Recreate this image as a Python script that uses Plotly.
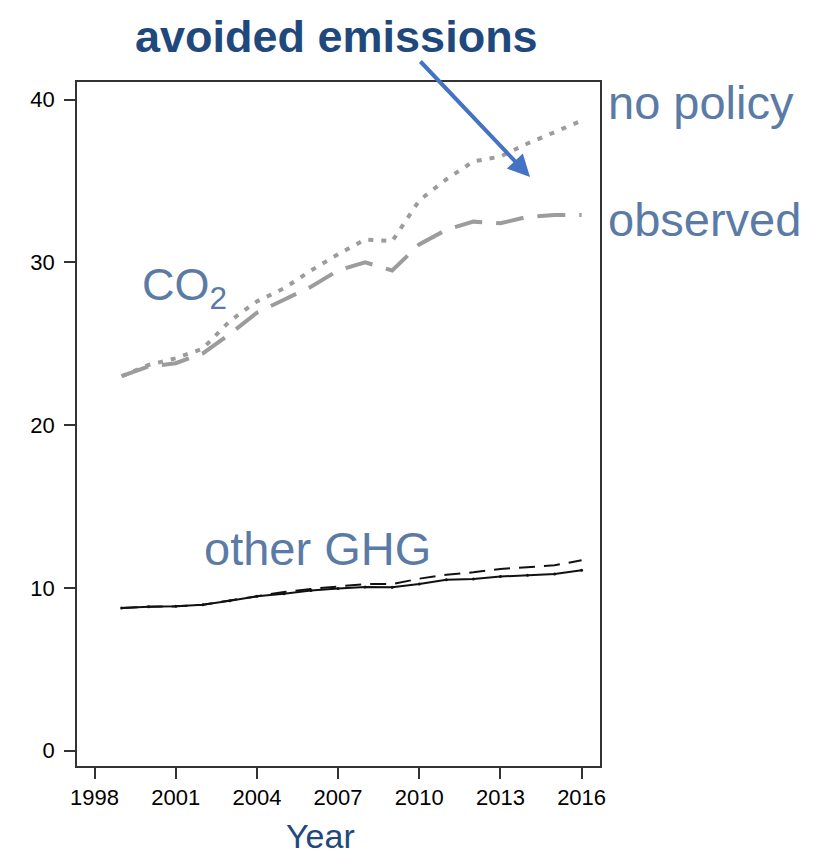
import plotly.graph_objects as go

years = list(range(1999, 2017))

co2_no_policy = [23.0, 23.7, 24.1, 24.7, 26.4, 27.6, 28.4, 29.5, 30.5, 31.4, 31.3,
                 33.8, 35.1, 36.2, 36.5, 37.3, 38.0, 38.7]
co2_observed = [23.0, 23.6, 23.8, 24.4, 25.6, 26.9, 27.7, 28.5, 29.5, 30.0, 29.5,
                31.1, 32.0, 32.5, 32.4, 32.8, 32.9, 32.9]
ghg_no_policy = [8.76, 8.84, 8.86, 8.96, 9.22, 9.50, 9.74, 9.93, 10.07, 10.23, 10.23,
                 10.56, 10.80, 10.95, 11.16, 11.26, 11.38, 11.69]
ghg_observed = [8.76, 8.84, 8.86, 8.96, 9.20, 9.48, 9.64, 9.83, 9.95, 10.05, 10.03,
                10.24, 10.50, 10.54, 10.69, 10.77, 10.85, 11.08]

x_ticks = [1998, 2001, 2004, 2007, 2010, 2013, 2016]
y_ticks = [0, 10, 20, 30, 40]

label_color = "#5B7BA6"
title_color = "#1F497D"
font_family = "Liberation Sans, Arial, sans-serif"

fig = go.Figure()
fig.add_trace(go.Scatter(x=years, y=co2_no_policy, mode="lines",
                         line=dict(color="#9c9c9c", width=4, dash="5px,8px")))
fig.add_trace(go.Scatter(x=years, y=co2_observed, mode="lines",
                         line=dict(color="#9c9c9c", width=4, dash="28px,14px")))
fig.add_trace(go.Scatter(x=years, y=ghg_no_policy, mode="lines",
                         line=dict(color="#111111", width=2, dash="16px,9px")))
fig.add_trace(go.Scatter(x=years, y=ghg_observed, mode="lines+markers",
                         marker=dict(size=3, color="#111111"),
                         line=dict(color="#111111", width=2)))

axis_common = dict(showgrid=False, zeroline=False, showline=True, mirror=True,
                   linecolor="#333333", linewidth=1.5, ticks="outside", ticklen=11,
                   tickwidth=1.5, tickcolor="#333333",
                   tickfont=dict(family=font_family, size=22, color="#000000"))

fig.update_layout(
    width=828, height=854,
    margin=dict(l=69, r=236, t=74, b=96),
    paper_bgcolor="white", plot_bgcolor="white",
    showlegend=False,
    xaxis=dict(range=[1997.35, 2016.68], tickvals=x_ticks,
               ticklabelstandoff=0, **axis_common),
    yaxis=dict(range=[-0.95, 41.08], tickvals=y_ticks,
               ticklabelstandoff=5, **axis_common),
)

def ann(text, x, y, size, color, xanchor="left", bold=False):
    if bold:
        text = "<b>" + text + "</b>"
    fig.add_annotation(text=text, x=x, y=y, xref="paper", yref="paper",
                       xanchor=xanchor, yanchor="middle", showarrow=False,
                       font=dict(family=font_family, size=size, color=color))

def px_x(p):
    return (p - 77) / 523.0

def px_y(p):
    return (766 - p) / 684.0

ann("avoided emissions", px_x(336), px_y(36), 45, title_color, xanchor="center", bold=True)
ann("no policy", px_x(606), px_y(102), 47, label_color)
ann("observed", px_x(606), px_y(220), 47, label_color)
ann("CO<sub>2</sub>", px_x(140), px_y(287), 45, label_color)
ann("other GHG", px_x(202), px_y(548), 47, label_color)
ann("Year", px_x(320), px_y(836), 34, title_color, xanchor="center")

# arrow pointing to gap between curves
fig.add_annotation(x=px_x(530), y=px_y(177), ax=-111, ay=-117,
                   xref="paper", yref="paper", axref="pixel", ayref="pixel",
                   text="", showarrow=True, arrowhead=2, arrowsize=1.1,
                   arrowwidth=4, arrowcolor="#4472C4")

fig.write_html("out.html")
